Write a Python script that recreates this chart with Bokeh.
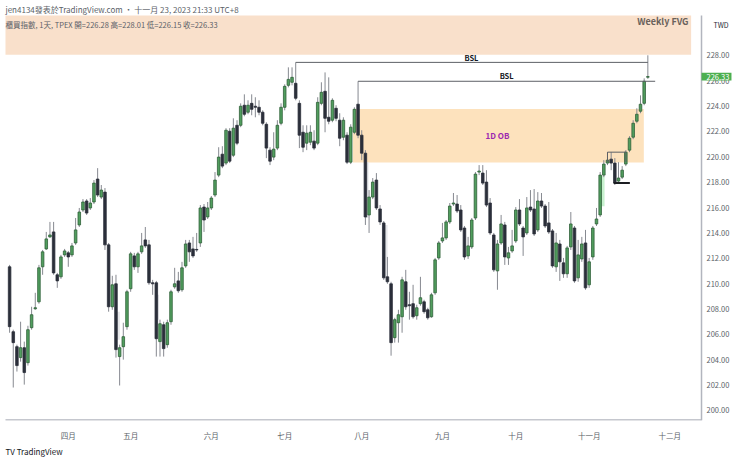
from bokeh.plotting import figure
from bokeh.models import Range1d, FixedTicker, Label, BoxAnnotation, ColumnDataSource, Title
from bokeh.embed import file_html
from bokeh.resources import INLINE

FONT = "Noto Sans CJK TC"

# ---- daily OHLC (TPEX index, 2023-03 .. 2023-11-23) ----
opens = [211.33, 206.21, 205.03, 204.17, 204.95, 203.77, 206.53, 208.02, 208.57, 211.33,
         212.74, 213.69, 214.08, 210.70, 210.54, 212.27, 212.43, 212.27, 213.21, 214.63,
         215.81, 216.52, 215.97, 216.44, 218.25, 216.83, 217.22, 213.06, 208.18, 209.99,
         204.25, 205.03, 206.61, 209.60, 212.19, 211.33, 212.51, 213.45, 213.06, 210.07,
         210.07, 205.43, 206.76, 205.19, 207.00, 209.75, 210.22, 209.52, 211.40, 213.21,
         212.74, 212.70, 213.21, 216.04, 215.26, 215.97, 216.99, 218.56, 220.21, 219.51,
         222.02, 220.13, 222.49, 222.49, 224.07, 223.52, 224.22, 223.99, 223.91, 223.52,
         222.57, 220.53, 219.98, 220.69, 222.65, 223.91, 225.64, 225.88, 225.80, 224.22,
         221.94, 221.08, 221.16, 221.24, 221.08, 224.22, 225.17, 223.12, 222.89, 223.83,
         222.89, 221.55, 221.71, 219.58, 221.94, 224.15, 221.71, 220.29, 215.42, 216.83,
         218.17, 215.89, 214.79, 210.54, 209.99, 205.74, 206.92, 207.39, 210.15, 208.34,
         208.42, 207.47, 208.42, 208.57, 207.94, 207.39, 209.28, 212.03, 213.37, 213.61,
         214.87, 216.28, 216.28, 215.81, 214.39, 212.19, 212.90, 215.18, 218.80, 218.72,
         218.01, 216.36, 213.84, 211.01, 213.21, 214.63, 212.03, 212.58, 213.37, 215.81,
         214.39, 214.00, 216.04, 215.89, 214.24, 216.52, 216.12, 214.79, 214.16, 211.33,
         213.13, 211.64, 210.78, 212.90, 214.39, 210.46, 211.95, 213.21, 209.91, 212.11,
         214.71, 215.42, 218.56, 219.51, 219.82, 219.51, 218.09, 218.40, 219.43, 220.53,
         221.55, 222.81, 223.60, 224.22, 226.28]
highs = [211.48, 206.37, 205.19, 207.00, 205.43, 206.68, 208.18, 209.28, 211.48, 212.66,
         214.08, 214.87, 214.87, 210.85, 212.27, 212.74, 212.58, 213.21, 215.18, 215.97,
         216.67, 216.67, 216.75, 218.17, 219.11, 217.78, 217.54, 213.21, 210.62, 210.70,
         205.19, 206.92, 209.52, 212.51, 212.43, 212.51, 214.00, 214.47, 213.45, 210.30,
         210.22, 207.16, 207.00, 207.16, 209.52, 211.25, 210.93, 211.72, 213.45, 213.45,
         213.69, 214.00, 216.20, 216.28, 216.44, 216.91, 218.80, 220.76, 220.84, 222.26,
         222.26, 223.04, 222.89, 224.22, 224.93, 224.46, 224.93, 224.70, 224.46, 223.67,
         222.73, 220.76, 221.94, 222.89, 224.22, 225.72, 227.06, 227.06, 227.45, 224.46,
         222.49, 222.49, 222.49, 222.10, 224.70, 225.88, 226.66, 226.27, 224.62, 224.07,
         223.44, 223.12, 221.94, 222.57, 223.91, 225.96, 222.10, 220.53, 217.38, 218.33,
         218.72, 216.20, 214.94, 212.11, 210.15, 207.31, 207.94, 210.54, 211.09, 209.36,
         209.91, 208.34, 210.54, 208.73, 208.10, 209.28, 212.03, 213.37, 214.79, 215.02,
         216.36, 217.15, 216.99, 216.20, 214.55, 213.69, 215.18, 218.80, 219.35, 219.35,
         218.95, 216.75, 214.00, 213.45, 215.42, 214.87, 212.90, 214.24, 216.04, 216.67,
         214.55, 216.83, 217.38, 217.46, 217.22, 217.15, 216.28, 216.44, 214.31, 214.00,
         213.45, 212.03, 212.98, 215.65, 214.55, 213.45, 213.69, 214.24, 212.03, 214.55,
         215.97, 218.80, 219.74, 220.37, 220.37, 219.90, 219.58, 219.27, 220.53, 221.63,
         222.89, 223.83, 224.85, 226.19, 228.01]
lows = [206.13, 201.81, 203.07, 203.85, 202.04, 203.54, 206.37, 207.94, 208.42, 210.70,
        212.66, 213.61, 210.70, 209.67, 210.38, 212.11, 211.33, 212.11, 213.06, 214.47,
        215.65, 215.42, 215.81, 216.28, 216.83, 216.67, 212.66, 207.79, 207.94, 204.17,
        201.97, 204.01, 206.37, 209.36, 211.09, 210.85, 212.35, 212.82, 209.91, 209.12,
        204.25, 204.25, 204.25, 204.95, 206.76, 209.60, 209.28, 209.36, 211.25, 211.72,
        212.03, 212.51, 212.90, 214.08, 215.10, 215.81, 216.83, 218.40, 219.11, 219.35,
        219.51, 219.98, 220.92, 222.34, 223.20, 223.36, 223.28, 223.12, 223.28, 222.49,
        219.90, 219.35, 219.74, 220.53, 222.49, 223.67, 225.48, 225.64, 224.46, 220.69,
        220.37, 220.53, 220.92, 220.53, 220.92, 224.07, 221.94, 222.57, 222.73, 222.81,
        220.84, 221.31, 219.43, 219.43, 221.79, 221.47, 219.74, 214.63, 214.00, 216.67,
        215.81, 214.63, 210.30, 209.99, 204.32, 205.35, 205.35, 206.13, 207.94, 207.16,
        207.24, 207.16, 208.26, 207.63, 207.16, 207.31, 209.12, 211.88, 213.21, 213.45,
        214.71, 216.12, 215.57, 214.08, 211.88, 211.95, 212.74, 215.02, 218.56, 217.78,
        216.04, 213.84, 210.93, 209.52, 213.06, 211.48, 211.48, 212.43, 213.21, 214.55,
        212.19, 213.84, 215.65, 213.76, 214.08, 215.97, 214.39, 213.92, 211.25, 210.93,
        210.22, 210.46, 210.46, 212.66, 210.07, 210.15, 211.72, 209.52, 209.67, 211.88,
        214.55, 215.26, 218.40, 219.35, 218.95, 217.78, 217.93, 218.25, 219.27, 220.37,
        221.39, 222.65, 223.44, 224.07, 226.15]
closes = [206.61, 205.35, 203.54, 204.95, 202.99, 206.37, 207.55, 208.10, 211.25, 212.51,
          213.53, 213.84, 210.85, 210.22, 212.11, 212.58, 212.11, 212.98, 214.24, 215.65,
          216.44, 215.57, 216.36, 217.93, 216.99, 217.38, 213.06, 208.18, 209.91, 204.80,
          204.95, 205.82, 209.36, 212.35, 211.33, 212.35, 212.98, 212.98, 210.07, 209.99,
          205.66, 206.84, 204.88, 206.92, 209.36, 209.99, 209.44, 211.25, 213.13, 212.51,
          212.19, 212.66, 215.97, 215.02, 215.97, 216.75, 218.17, 219.98, 219.27, 222.10,
          219.66, 222.26, 221.08, 223.99, 223.36, 224.07, 223.75, 223.91, 223.52, 222.65,
          220.69, 219.66, 220.61, 222.49, 223.91, 225.56, 226.11, 226.27, 224.62, 221.71,
          220.76, 221.87, 221.94, 220.69, 224.30, 225.09, 223.04, 222.81, 224.46, 223.04,
          221.47, 222.89, 219.58, 222.34, 223.75, 221.71, 220.29, 215.26, 216.83, 218.01,
          215.97, 214.87, 210.46, 210.15, 205.35, 207.16, 207.55, 210.30, 208.18, 208.26,
          207.39, 208.10, 208.89, 207.79, 207.31, 209.12, 211.88, 213.21, 213.61, 214.87,
          216.12, 216.36, 215.73, 214.24, 212.11, 212.98, 215.02, 218.64, 218.88, 217.93,
          216.20, 214.00, 211.09, 213.13, 214.71, 212.11, 212.43, 212.98, 215.81, 214.71,
          213.69, 215.97, 215.81, 213.92, 216.52, 216.12, 214.55, 214.08, 211.40, 213.21,
          211.72, 210.78, 212.82, 214.71, 210.22, 212.27, 213.13, 209.67, 211.72, 214.39,
          215.10, 218.56, 219.43, 219.74, 219.51, 217.93, 218.33, 218.95, 220.37, 221.47,
          222.65, 223.36, 224.15, 225.96, 226.33]

# month axis (bar index of each month's first session)
month_idx = [16, 33, 55, 75, 96, 118, 138, 158, 180]
month_labels = ["四月", "五月", "六月", "七月", "八月", "九月", "十月", "十一月", "十二月"]
price_ticks = [200, 202, 204, 206, 208, 210, 212, 214, 216, 218, 220, 222, 224, 226, 228]

# drawn annotations (levels and bar spans)
bsl_level = [227.45, 225.96]
bsl_from = [78, 95]
bsl_to = [174, 176]
ob_left, ob_right, ob_bottom, ob_top = 93.6, 172.9, 219.55, 223.78
fvg_left, fvg_right, fvg_bottom, fvg_top = -1.12, 185.8, 228.05, 231.15
bracket_level, bracket_from, bracket_to, bracket_foot = 220.37, 163, 168, 219.6
ssl_level, ssl_from, ssl_to = 217.93, 164.7, 169.1
gray_fvg_left = [29.3, 40.0, 97.1, 102.3]
gray_fvg_bottom = [205.58, 207.16, 215.18, 210.30]
gray_fvg_top = [207.79, 209.12, 219.58, 214.63]
mint_left, mint_bottom, mint_top = 161.3, 216.1, 218.5

last_open, last_high, last_low, last_close = 226.28, 228.01, 226.15, 226.33

# price-scale geometry (bar-index units on the right side of the pane)
scale_left, scale_text_x, scale_right = 188.63, 190.0, 196.8

# ---------------------------------------------------------------------------
n = len(opens)
idx = list(range(n))
up = [c >= o for o, c in zip(opens, closes)]
GREEN, GREEN_EDGE, BLACK, WICK = "#519e5e", "#2e5f38", "#2b2f3a", "#868990"
AXIS_COL, TXT = "#b2b5be", "#5b5f68"

src = ColumnDataSource(dict(
    x=idx, o=opens, h=highs, l=lows, c=closes,
    top=[max(o, c) for o, c in zip(opens, closes)],
    bot=[min(o, c) for o, c in zip(opens, closes)],
    fill=[GREEN if u else BLACK for u in up],
    edge=[GREEN_EDGE if u else BLACK for u in up],
))

p = figure(width=740, height=457, output_backend="svg", toolbar_location=None,
           x_range=Range1d(-2.48, 199.26), y_range=Range1d(199.21, 232.33),
           y_axis_location=None, min_border_left=0, min_border_right=0,
           min_border_top=0, min_border_bottom=36, tools="")
p.outline_line_color = None
p.background_fill_color = "white"
p.grid.visible = False

# boxes under the candles
p.add_layout(BoxAnnotation(left=fvg_left, right=fvg_right, bottom=fvg_bottom, top=fvg_top,
                           fill_color="#f9e0cb", fill_alpha=1, line_color=None, level="underlay"))
p.add_layout(BoxAnnotation(left=ob_left, right=ob_right, bottom=ob_bottom, top=ob_top,
                           fill_color="#fde2bd", fill_alpha=1, line_color=None, level="underlay"))
for gl, gb, gt in zip(gray_fvg_left, gray_fvg_bottom, gray_fvg_top):
    p.add_layout(BoxAnnotation(left=gl, right=gl + 0.75, bottom=gb, top=gt,
                               fill_color="#e6e7ea", fill_alpha=1, line_color=None, level="underlay"))
p.add_layout(BoxAnnotation(left=mint_left, right=mint_left + 0.9, bottom=mint_bottom, top=mint_top,
                           fill_color="#c8f1cf", fill_alpha=1, line_color=None, level="underlay"))

# candles
p.segment(x0="x", y0="l", x1="x", y1="h", source=src, line_color=WICK, line_width=1)
p.vbar(x="x", width=0.7, top="top", bottom="bot", source=src,
       fill_color="fill", line_color="edge", line_width=0.8)

# BSL lines
for lv, a, b in zip(bsl_level, bsl_from, bsl_to):
    p.segment(x0=[a], y0=[lv], x1=[b], y1=[lv], line_color="#5d6066", line_width=1)
# small bracket and sweep line
p.segment(x0=[bracket_from, bracket_from, bracket_to], y0=[bracket_level] * 3,
          x1=[bracket_to, bracket_from, bracket_to], y1=[bracket_level, bracket_foot, bracket_foot],
          line_color="#5d6066", line_width=1)
p.segment(x0=[ssl_from], y0=[ssl_level], x1=[ssl_to], y1=[ssl_level], line_color="#1b1d22", line_width=2)

# x axis (months) below the pane
p.xaxis.ticker = FixedTicker(ticks=month_idx)
p.xaxis.major_label_overrides = {i: t for i, t in zip(month_idx, month_labels)}
p.xaxis.axis_line_color = None
p.xaxis.major_tick_line_color = None
p.xaxis.minor_tick_line_color = None
p.xaxis.major_label_text_font = FONT
p.xaxis.major_label_text_font_size = "7.5px"
p.xaxis.major_label_text_color = TXT
p.xaxis.major_label_standoff = 3

# pane border lines (bottom edge and price-scale edge)
p.segment(x0=[fvg_left], y0=[199.25], x1=[scale_left], y1=[199.25], line_color=AXIS_COL, line_width=1.5)
p.segment(x0=[scale_left], y0=[199.21], x1=[scale_left], y1=[fvg_top], line_color=AXIS_COL, line_width=1.5)

# price scale labels
p.text(x=[scale_text_x] * len(price_ticks), y=price_ticks, text=["%.2f" % t for t in price_ticks],
       text_font={"value": FONT}, text_font_size="7.5px", text_color=TXT,
       text_align="left", text_baseline="middle")

# last price tag on the price scale
p.quad(left=[scale_left], right=[scale_right], bottom=[last_close - 0.31], top=[last_close + 0.31],
       fill_color="#4caf50", line_color=None)
p.text(x=[scale_text_x], y=[last_close], text=["%.2f" % last_close], text_font={"value": FONT},
       text_font_size="7.5px", text_color="white", text_align="left", text_baseline="middle")


def lab(x, y, text, size, color=TXT, bold=False, align="left"):
    p.add_layout(Label(x=x, y=y, text=text, text_font=FONT, text_font_size=size,
                       text_color=color, text_font_style="bold" if bold else "normal",
                       text_align=align, text_baseline="middle"))


# header / legend
lab(-1.12, 231.62, "jen4134發表於TradingView.com · 十一月 23, 2023 21:33 UTC+8", "8px")
lab(-1.12, 230.44, "櫃買指數, 1天, TPEX  開=%.2f  高=%.2f  低=%.2f  收=%.2f"
    % (last_open, last_high, last_low, last_close), "7.5px")
lab(185.1, 230.67, "Weekly FVG", "9px", color="#6a625c", bold=True, align="right")
lab(191.9, 230.36, "TWD", "7px", color="#2a2e39")

# drawing labels
lab(125.9, 227.84, "BSL", "7.5px", color="#131722", bold=True, align="center")
lab(135.5, 226.43, "BSL", "7.5px", color="#131722", bold=True, align="center")
lab(133.0, 221.71, "1D OB", "8px", color="#9c27b0", bold=True, align="center")

# footer
p.add_layout(Title(text="TV TradingView", align="left", offset=5, standoff=1,
                   text_font=FONT, text_font_size="8px", text_font_style="normal",
                   text_color="#131722"), "below")

open("out.html", "w").write(file_html(p, INLINE))
